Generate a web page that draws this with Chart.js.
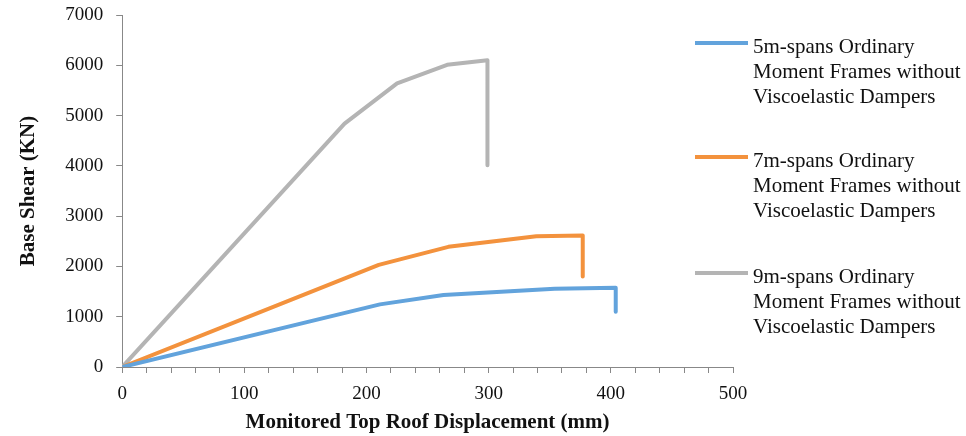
<!DOCTYPE html>
<html lang="en">
<head>
    <meta charset="UTF-8">
    <title>Base Shear vs Roof Displacement</title>
    <script src="https://cdn.jsdelivr.net/npm/chart.js"></script>
    <style>
        body { margin: 0; background: #fff; font-family: "Liberation Serif", "Times New Roman", serif; }
        #wrap { position: relative; width: 966px; height: 436px; }
        #legend { position: absolute; left: 695px; top: 0; }
        .item { position: absolute; left: 0; width: 270px; }
        .swatch { position: absolute; left: 0; width: 53px; height: 4px; }
        .text { position: absolute; left: 58px; font-size: 21px; line-height: 25px; color: #111; white-space: nowrap; }
    </style>
</head>
<body>
<div id="wrap">
    <canvas id="chart" width="966" height="436"></canvas>
    <div id="legend"></div>
</div>

<script>
    // series names
    const seriesNames = [
        '5m-spans Ordinary Moment Frames without Viscoelastic Dampers',
        '7m-spans Ordinary Moment Frames without Viscoelastic Dampers',
        '9m-spans Ordinary Moment Frames without Viscoelastic Dampers'
    ];
    const legendLines = [
        ['5m-spans Ordinary', 'Moment Frames without', 'Viscoelastic Dampers'],
        ['7m-spans Ordinary', 'Moment Frames without', 'Viscoelastic Dampers'],
        ['9m-spans Ordinary', 'Moment Frames without', 'Viscoelastic Dampers']
    ];
    const colors = ['#62A3DC', '#F3923D', '#B4B4B4'];

    // displacement (mm) and base shear (KN)
    const disp5 = [0, 211, 263, 354, 404, 404];
    const shear5 = [0, 1245, 1430, 1555, 1575, 1100];

    const disp7 = [0, 210, 267, 339, 377, 377];
    const shear7 = [0, 2030, 2390, 2600, 2615, 1800];

    const disp9 = [0, 182, 225, 266, 299, 299];
    const shear9 = [0, 4840, 5640, 6010, 6100, 4010];

    const xTicks = [0, 100, 200, 300, 400, 500];
    const yTicks = [0, 1000, 2000, 3000, 4000, 5000, 6000, 7000];

    function toPoints(xs, ys) {
        return xs.map((x, i) => ({ x: x, y: ys[i] }));
    }

    const allX = [disp5, disp7, disp9];
    const allY = [shear5, shear7, shear9];

    const datasets = seriesNames.map((name, i) => ({
        label: name,
        data: toPoints(allX[i], allY[i]),
        borderColor: colors[i],
        backgroundColor: colors[i],
        borderWidth: 4,
        showLine: true,
        pointRadius: 0,
        tension: 0,
        borderJoinStyle: 'round'
    }));

    const font = { family: '"Liberation Serif", "Times New Roman", serif', size: 19 };
    const titleFont = { family: '"Liberation Serif", "Times New Roman", serif', size: 21, weight: 'bold' };

    new Chart(document.getElementById('chart'), {
        type: 'scatter',
        data: { datasets: datasets },
        options: {
            responsive: false,
            animation: false,
            layout: { padding: { top: 0, right: 233, left: 12, bottom: 1 } },
            plugins: { legend: { display: false }, tooltip: { enabled: false } },
            scales: {
                x: {
                    type: 'linear',
                    min: 0, max: 500,
                    afterBuildTicks: axis => {
                        const t = [];
                        for (let v = 0; v <= 500; v += 20) t.push({ value: v });
                        axis.ticks = t;
                    },
                    afterFit: axis => { axis.height = 68; },
                    ticks: {
                        autoSkip: false,
                        maxRotation: 0,
                        color: '#111',
                        font: font,
                        padding: 10,
                        callback: v => xTicks.includes(v) ? String(v) : ''
                    },
                    grid: { drawOnChartArea: false, drawTicks: true, tickLength: 6, color: '#888' },
                    border: { color: '#888', width: 1 },
                    title: { display: true, text: 'Monitored Top Roof Displacement (mm)', color: '#111', font: titleFont, padding: { top: 0, bottom: 0 } }
                },
                y: {
                    min: 0, max: 7000,
                    afterBuildTicks: axis => { axis.ticks = yTicks.map(v => ({ value: v })); },
                    afterFit: axis => { axis.paddingTop = 15; },
                    ticks: { color: '#111', font: font, padding: 13, callback: v => String(v) },
                    grid: { drawOnChartArea: false, drawTicks: true, tickLength: 6, color: '#888' },
                    border: { color: '#888', width: 1 },
                    title: { display: true, text: 'Base Shear (KN)', color: '#111', font: titleFont, padding: { bottom: 11 } }
                }
            }
        }
    });

    // legend with wrapped labels
    const legendTops = [43, 157, 273];
    const legendEl = document.getElementById('legend');
    legendLines.forEach((lines, i) => {
        const item = document.createElement('div');
        item.className = 'item';
        item.style.top = legendTops[i] + 'px';
        const sw = document.createElement('div');
        sw.className = 'swatch';
        sw.style.background = colors[i];
        sw.style.top = '-2px';
        item.appendChild(sw);
        const tx = document.createElement('div');
        tx.className = 'text';
        tx.style.top = '-9px';
        tx.innerHTML = lines.join('<br>');
        item.appendChild(tx);
        legendEl.appendChild(item);
    });
</script>
</body>
</html>
